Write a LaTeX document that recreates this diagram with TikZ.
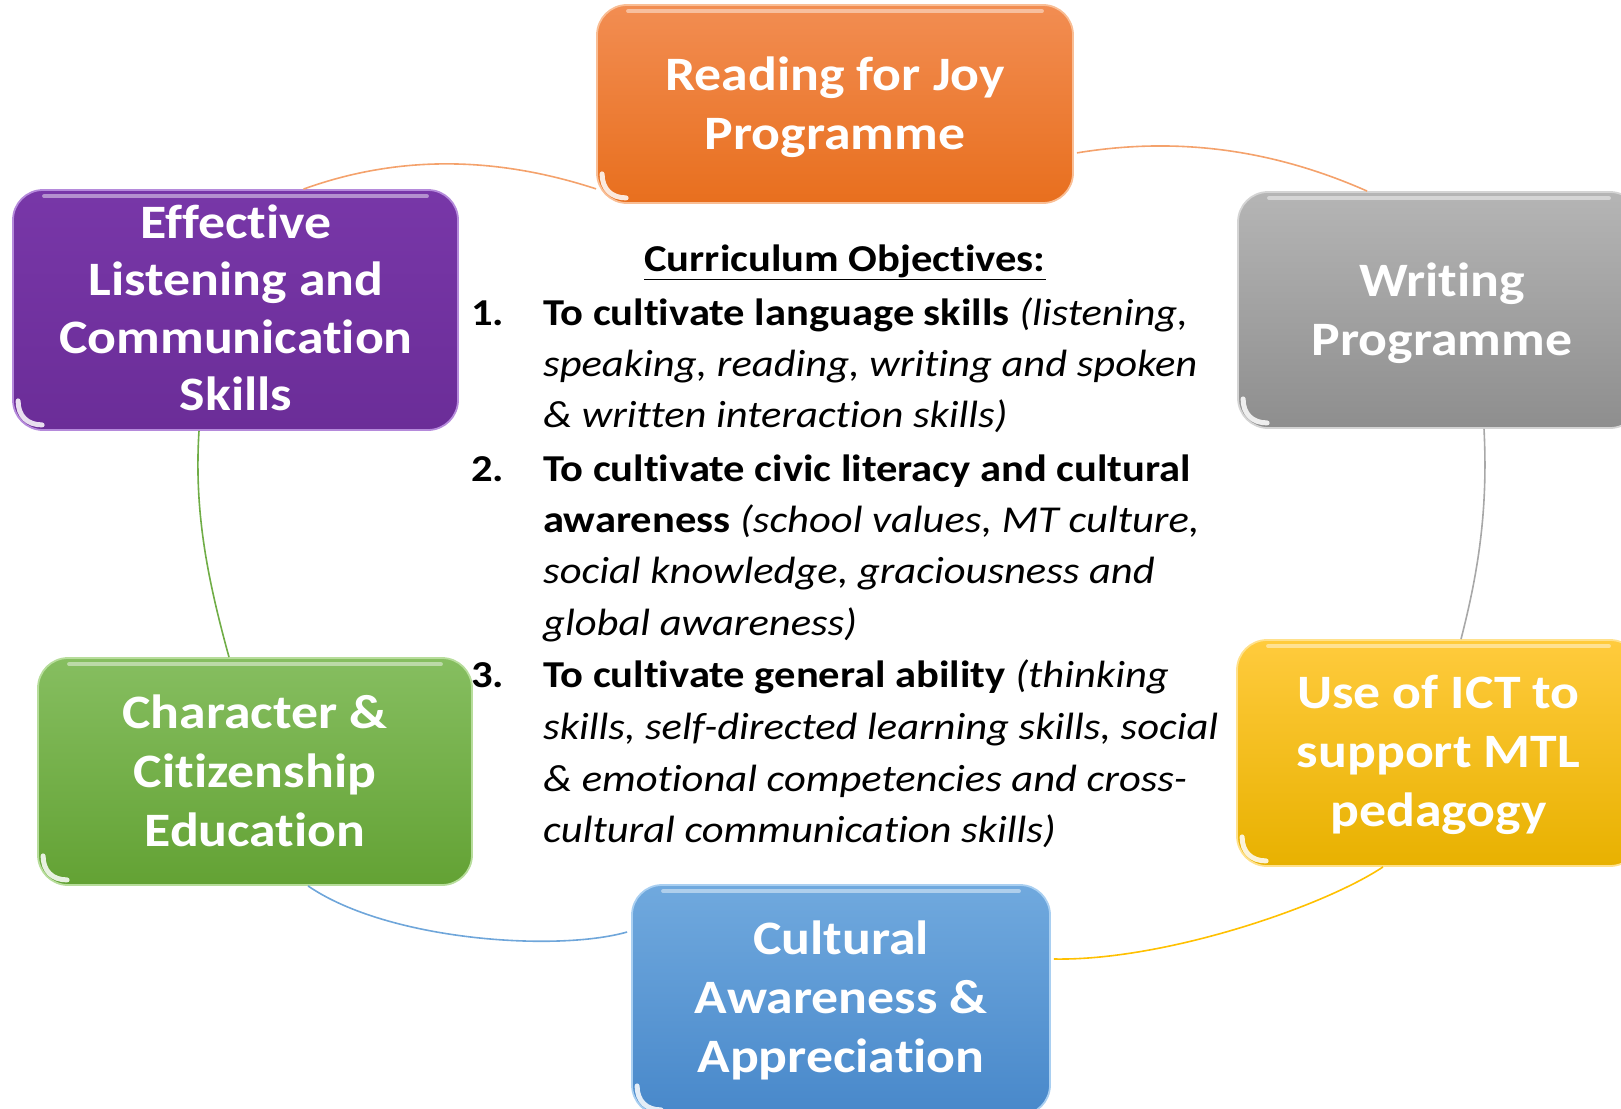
\documentclass[tikz,border=0pt]{standalone}
\usepackage{fontspec}
\setmainfont{Carlito}[FakeStretch=1.12, Ligatures=NoCommon]
\definecolor{orT}{HTML}{F28D52}\definecolor{orB}{HTML}{E86F1E}\definecolor{orR}{HTML}{F9BE95}
\definecolor{puT}{HTML}{7837A8}\definecolor{puB}{HTML}{6B2D98}\definecolor{puR}{HTML}{B58ADB}
\definecolor{grT}{HTML}{B5B5B5}\definecolor{grB}{HTML}{8E8E8E}\definecolor{grR}{HTML}{D4D4D4}
\definecolor{yeT}{HTML}{FFCB3D}\definecolor{yeB}{HTML}{E8B100}\definecolor{yeR}{HTML}{FFE18C}
\definecolor{blT}{HTML}{70A9DE}\definecolor{blB}{HTML}{4888CA}\definecolor{blR}{HTML}{A9CFF1}
\definecolor{gnT}{HTML}{86BE60}\definecolor{gnB}{HTML}{63A234}\definecolor{gnR}{HTML}{B7DD9B}
\definecolor{arcOr}{HTML}{F4A26C}\definecolor{arcGr}{HTML}{A8A8A8}\definecolor{arcYe}{HTML}{FFC000}
\definecolor{arcBl}{HTML}{6FA6DA}\definecolor{arcGn}{HTML}{70AD47}
\newcommand\glossy[1]{%
  \draw[white, opacity=.45, line width=4pt, line cap=round]
    ([shift={(32pt,-7pt)}]#1.north west) -- ([shift={(-32pt,-7pt)}]#1.north east);
  \draw[white, opacity=.85, line width=5pt, line cap=round]
    ([shift={(6pt,30pt)}]#1.south west) .. controls +(0pt,-15pt) and +(-15pt,0pt) .. ([shift={(30pt,6pt)}]#1.south west);
}
\begin{document}
\begin{tikzpicture}[x=1pt,y=-1pt,
  box/.style={rounded corners=30pt, line width=1.8pt, inner sep=0pt},
  boxlabel/.style={text=white, align=center, inner sep=0pt, font=\bfseries\fontsize{48}{59}\selectfont},
  arcline/.style={line width=1.6pt},
  objt/.style={anchor=base west, inner sep=0pt, font=\fontsize{38}{44}\selectfont},
]
\useasboundingbox (0,0) rectangle (1621,1108);

% boxes
\node[box, minimum width=476pt, minimum height=198pt, top color=orT, bottom color=orB, draw=orR]
  (ora) at (835,104) {};
\node[box, minimum width=445pt, minimum height=240pt, top color=puT, bottom color=puB, draw=puR]
  (pur) at (235.5,310) {};
\node[box, minimum width=402pt, minimum height=236pt, top color=grT, bottom color=grB, draw=grR]
  (gra) at (1439,310) {};
\node[box, minimum width=403pt, minimum height=226pt, top color=yeT, bottom color=yeB, draw=yeR]
  (yel) at (1438.5,753) {};
\node[box, minimum width=418pt, minimum height=230pt, top color=blT, bottom color=blB, draw=blR]
  (blu) at (841,1000) {};
\node[box, minimum width=434pt, minimum height=227pt, top color=gnT, bottom color=gnB, draw=gnR]
  (gre) at (255,771.5) {};

\glossy{ora}\glossy{pur}\glossy{gra}\glossy{yel}\glossy{blu}\glossy{gre}

% box labels
\node[boxlabel] (oraT) at (835,107) {Reading for Joy\\Programme};
\node[boxlabel, font=\bfseries\fontsize{48}{57.5}\selectfont] (purT) at (236,308) {Effective\\Listening and\\Communication\\Skills};
\node[boxlabel] (graT) at (1442,313) {Writing\\Programme};
\node[boxlabel] (yelT) at (1438.5,755) {Use of ICT to\\support MTL\\pedagogy};
\node[boxlabel] (bluT) at (841,1000) {Cultural\\Awareness \&\\Appreciation};
\node[boxlabel] (greT) at (255,771) {Character \&\\Citizenship\\Education};

% connecting arcs
\draw[arcline, arcOr] ([xshift=68pt]pur.north) .. controls +(94,-34) and +(-101,-33) .. ([yshift=15pt]ora.south west);
\draw[arcline, arcOr] ([shift={(3pt,51pt)}]ora.south east) .. controls +(97,-16) and +(-97,-43) .. ([xshift=130pt]gra.north west);
\draw[arcline, arcGr] ([xshift=45pt]gra.south) .. controls +(4,79) and +(18,-70) .. ([xshift=22.5pt]yel.north);
\draw[arcline, arcYe] ([xshift=-55.5pt]yel.south) .. controls +(-60,40) and +(110,2) .. ([shift={(3pt,41pt)}]blu.east);
\draw[arcline, arcBl] ([shift={(-4pt,68pt)}]blu.west) .. controls +(-70,20) and +(80,55) .. ([xshift=53pt]gre.south);
\draw[arcline, arcGn] ([xshift=-26pt]gre.north) .. controls +(-22,-80) and +(-5,80) .. ([xshift=-36.5pt]pur.south);

% central text
\node[anchor=base, inner sep=0pt, font=\bfseries\fontsize{38}{44}\selectfont] (head) at (845,271) {\underline{Curriculum Objectives:}};
\node[objt, font=\bfseries\fontsize{38}{44}\selectfont] (n1) at (471,325) {1.};
\node[objt, font=\bfseries\fontsize{38}{44}\selectfont] (n2) at (471,481) {2.};
\node[objt, font=\bfseries\fontsize{38}{44}\selectfont] (n3) at (471,687) {3.};
\node[objt] (l1) at (543,325) {\textbf{To cultivate language skills} \textit{(listening,}};
\node[objt] (l2) at (543,376) {\textit{speaking, reading, writing and spoken}};
\node[objt] (l3) at (543,427) {\textit{\& written interaction skills)}};
\node[objt] (l4) at (543,481) {\textbf{To cultivate civic literacy and cultural}};
\node[objt] (l5) at (543,532) {\textbf{awareness} \textit{(school values, MT culture,}};
\node[objt] (l6) at (543,583) {\textit{social knowledge, graciousness and}};
\node[objt] (l7) at (543,635) {\textit{global awareness)}};
\node[objt] (l8) at (543,687) {\textbf{To cultivate general ability} \textit{(thinking}};
\node[objt] (l9) at (543,739) {\textit{skills, self-directed learning skills, social}};
\node[objt] (l10) at (543,791) {\textit{\& emotional competencies and cross-}};
\node[objt] (l11) at (543,842) {\textit{cultural communication skills)}};
\end{tikzpicture}
\end{document}
